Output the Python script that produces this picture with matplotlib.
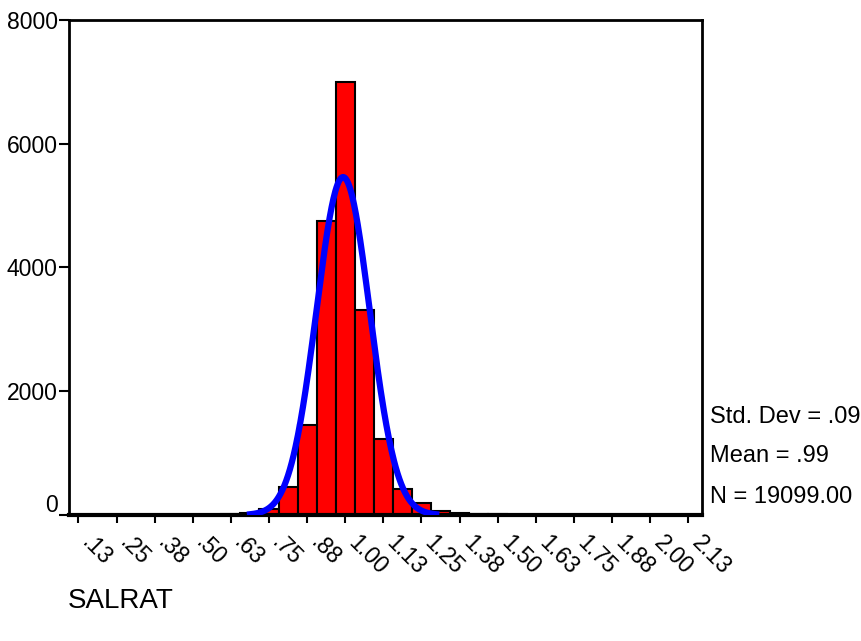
import numpy as np
import matplotlib
matplotlib.use("Agg")
import matplotlib.pyplot as plt
from matplotlib.transforms import ScaledTranslation

plt.rcParams['font.family'] = ['Liberation Sans', 'DejaVu Sans']

# histogram of SALRAT, bin width .0625
bin_centers = [0.5, 0.5625, 0.625, 0.6875, 0.75, 0.8125, 0.875, 0.9375, 1.0,
               1.0625, 1.125, 1.1875, 1.25, 1.3125, 1.375, 1.4375, 1.5, 1.5625, 2.0]
counts = [3, 5, 15, 40, 100, 450, 1460, 4750, 6990,
          3320, 1220, 420, 190, 65, 40, 15, 10, 5, 3]
bin_width = 0.0625

tick_values = [0.125 * i for i in range(1, 18)]
tick_labels = ['.13', '.25', '.38', '.50', '.63', '.75', '.88', '1.00', '1.13',
               '1.25', '1.38', '1.50', '1.63', '1.75', '1.88', '2.00', '2.13']

std_dev = 0.0872
mean = 0.993
n_total = 19099

fig = plt.figure(figsize=(8.62, 6.41), dpi=100)
ax = fig.add_axes([0.080, 0.1966, 0.7344, 0.7722])

ax.bar(bin_centers, counts, width=bin_width, color='#ff0000',
       edgecolor='black', linewidth=1.5, zorder=2)

# fitted normal curve
xs = np.linspace(mean - 3.5 * std_dev, mean + 3.5 * std_dev, 300)
ys = n_total * bin_width / (std_dev * np.sqrt(2 * np.pi)) * np.exp(-0.5 * ((xs - mean) / std_dev) ** 2)
ax.plot(xs, ys, color='#0000ff', linewidth=4.5, zorder=3)

ax.set_xlim(0.094, 2.17)
ax.set_ylim(0, 8000)
ax.set_yticks([0, 2000, 4000, 6000, 8000])
ax.set_yticklabels(['0', '2000', '4000', '6000', '8000'], fontsize=16.5)
ax.set_xticks(tick_values)
ax.set_xticklabels(tick_labels, fontsize=16.5, rotation=-45, ha='left', va='top',
                   rotation_mode='anchor')
ax.tick_params(axis='x', length=6, width=1.5, pad=10)
ax.tick_params(axis='y', length=7, width=1.5, pad=1)

shift = ScaledTranslation(0.15, 0.06, fig.dpi_scale_trans)
for lab in ax.get_xticklabels():
    lab.set_transform(lab.get_transform() + shift)
zero_lab = ax.get_yticklabels()[0]
zero_lab.set_transform(zero_lab.get_transform() + ScaledTranslation(0, 0.12, fig.dpi_scale_trans))

for side in ['left', 'top', 'right']:
    ax.spines[side].set_linewidth(2)
ax.spines['bottom'].set_linewidth(3)

fig.text(0.8237, 0.349, 'Std. Dev = .09', fontsize=17, va='center')
fig.text(0.8237, 0.288, 'Mean = .99', fontsize=17, va='center')
fig.text(0.8237, 0.225, 'N = 19099.00', fontsize=17, va='center')

fig.text(0.079, 0.062, 'SALRAT', fontsize=20, va='center')

fig.savefig('out.png', dpi=100)
